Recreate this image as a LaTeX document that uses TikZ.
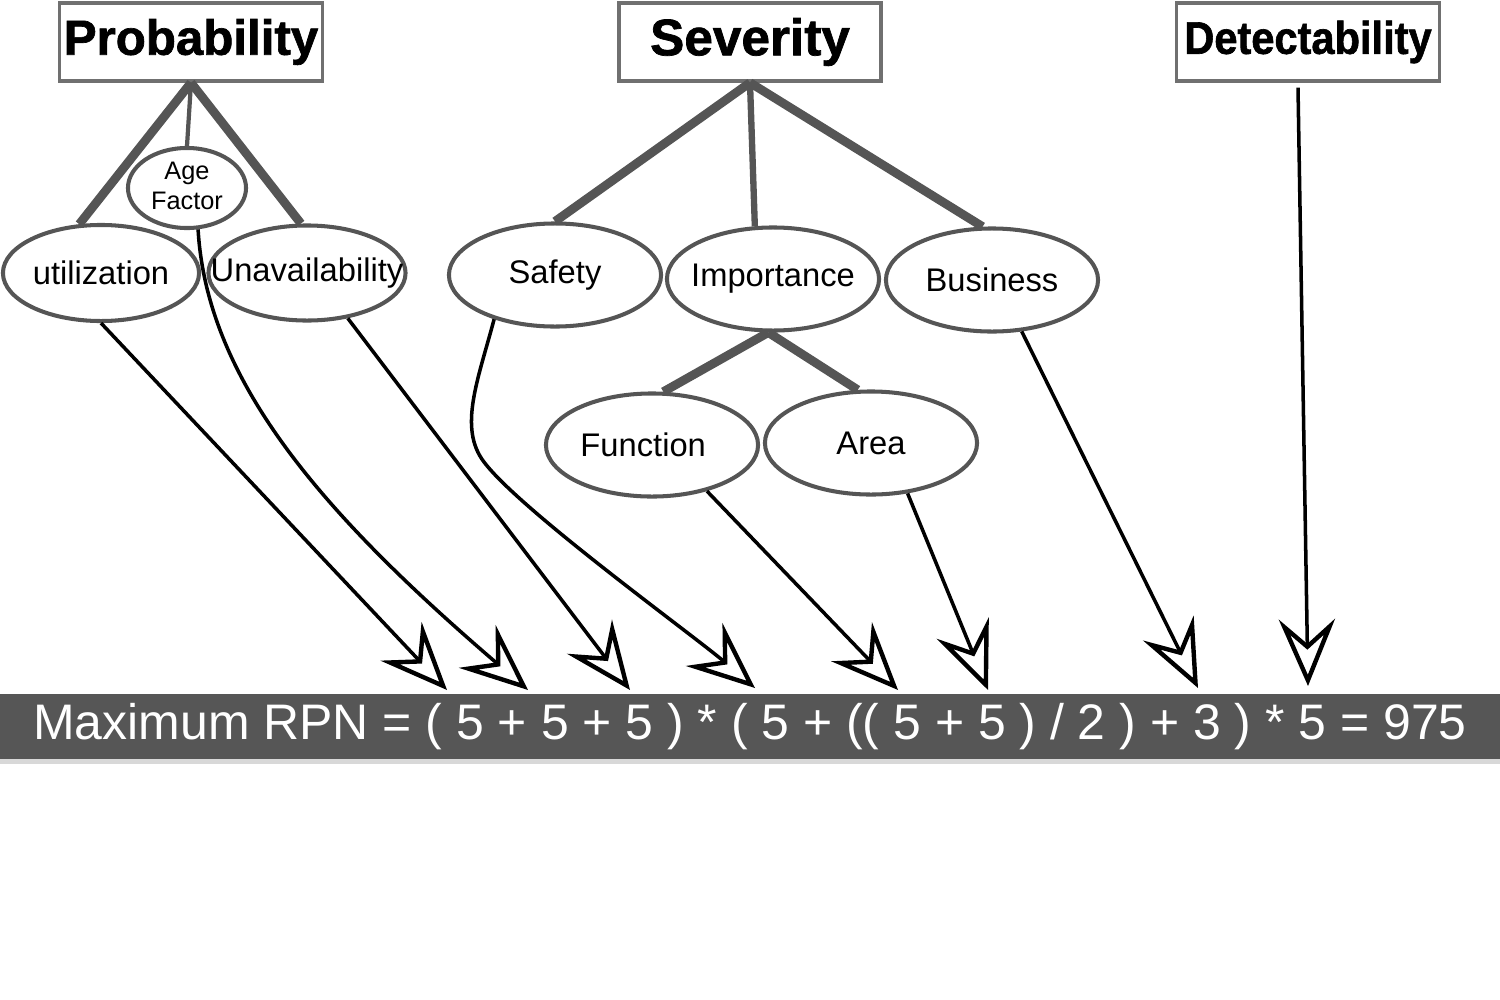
\documentclass[tikz,border=0pt]{standalone}
\usepackage{fontspec}
\setmainfont{Liberation Sans}
\newfontfamily\titlefont[BoldFeatures={FakeBold=1.4}]{Liberation Sans}
\usetikzlibrary{shapes.geometric,arrows.meta,calc}
\definecolor{linegray}{HTML}{555555}
\definecolor{boxgray}{HTML}{707070}
\definecolor{bargray}{HTML}{565656}
\definecolor{shadowgray}{HTML}{D8D8D8}
\newcommand\zbox[1]{\makebox[0pt]{#1}}
\tikzset{
  titlebox/.style={draw=boxgray, line width=0.95pt, minimum width=2.63cm, minimum height=0.78cm, inner sep=0pt,
    font=\titlefont\bfseries\fontsize{14}{16}\selectfont},
  factor/.style={ellipse, draw=linegray, line width=1.15pt, minimum width=2.12cm, minimum height=1.03cm, inner sep=0pt,
    font=\fontsize{9.3}{11}\selectfont},
  branch/.style={draw=linegray, line width=2.5pt},
  flow/.style={draw=black, line width=1pt, -{Stealth[open, length=19pt, width=16pt, inset=7pt, line width=1.25pt]}},
}
\begin{document}
\begin{tikzpicture}[x=0.01cm,y=-0.01cm]
\useasboundingbox (0,0) rectangle (1500,1000);

% title boxes
\node[titlebox] (prob) at (191,42) {Probability};
\node[titlebox, minimum width=2.62cm, font=\titlefont\bfseries\fontsize{14.6}{16}\selectfont] (sev) at (750,42) {Severity};
\node[titlebox] (det) at (1308,42) {\scalebox{0.91}[1]{\fontsize{13}{15}\selectfont Detectability}};

% factor ellipses
\node[factor, minimum width=1.96cm, minimum height=0.96cm] (util) at (101,273) {\zbox{utilization}};
\node[factor, minimum width=1.18cm, minimum height=0.80cm, font=\fontsize{7.2}{8}\selectfont] (age) at (187,188)
  {\zbox{\raisebox{-2pt}[0pt][0pt]{\begin{tabular}{@{}c@{}}Age\\[0.5pt]Factor\end{tabular}}}};
\node[factor, minimum width=1.97cm, minimum height=0.95cm] (unav) at (307,273) {\zbox{Unavailability}};
\node[factor] (safety) at (555,275) {\zbox{\raisebox{-1pt}{Safety}}};
\node[factor] (imp) at (773,279) {\zbox{Importance}};
\node[factor] (bus) at (992,280) {\zbox{Business}};
\node[factor] (func) at (652,445) {\zbox{\hspace*{-5pt}\raisebox{-0.6pt}{Function}}};
\node[factor] (area) at (871,443) {\zbox{Area}};

% tree branches
\draw[branch] (prob.south) -- (util.114);
\draw[branch, line width=1.2pt] (prob.south) -- (age.north);
\draw[branch] (prob.south) -- (unav.97);
\draw[branch] (sev.south) -- (safety.north);
\draw[branch, line width=1.8pt] (sev.south) -- (imp.109);
\draw[branch] (sev.south) -- (bus.100);
\draw[branch] (imp.265) -- (func.78);
\draw[branch] (imp.265) -- (area.104);

% formula bar
\fill[shadowgray] (0,758) rectangle (1500,764);
\node[fill=bargray, minimum width=15cm, minimum height=0.65cm, inner sep=0pt, text=white,
  font=\fontsize{14.2}{16}\selectfont] (bar) at (750,726.5)
  {Maximum RPN = ( 5 + 5 + 5 ) * ( 5 + (( 5 + 5 ) / 2 ) + 3 ) * 5 = 975};

% arrow targets
\coordinate (t1) at (447,690);
\coordinate (t2) at (528,690);
\coordinate (t3) at (630,690);
\coordinate (t4) at (755,688);
\coordinate (t5) at (898,690);
\coordinate (t6) at (988,690);
\coordinate (t7) at (1198,688);
\coordinate (t8) at (1308,686);

% arrows
\draw[flow] (util.south) -- (t1);
\draw[flow] (age.285) .. controls (207,385) and (330,520) .. (t2);
\draw[flow] (unav.312) -- (t3);
\draw[flow] (safety.216) .. controls (478,380) and (458,428) .. (484,462) .. controls (520,510) and (693,635) .. (t4);
\draw[flow] (func.320) -- (t5);
\draw[flow] (area.306) -- (t6);
\draw[flow] (bus.300) -- (t7);
\draw[flow] ([xshift=-0.1cm,yshift=-0.05cm]det.south) -- (t8);
\end{tikzpicture}
\end{document}
